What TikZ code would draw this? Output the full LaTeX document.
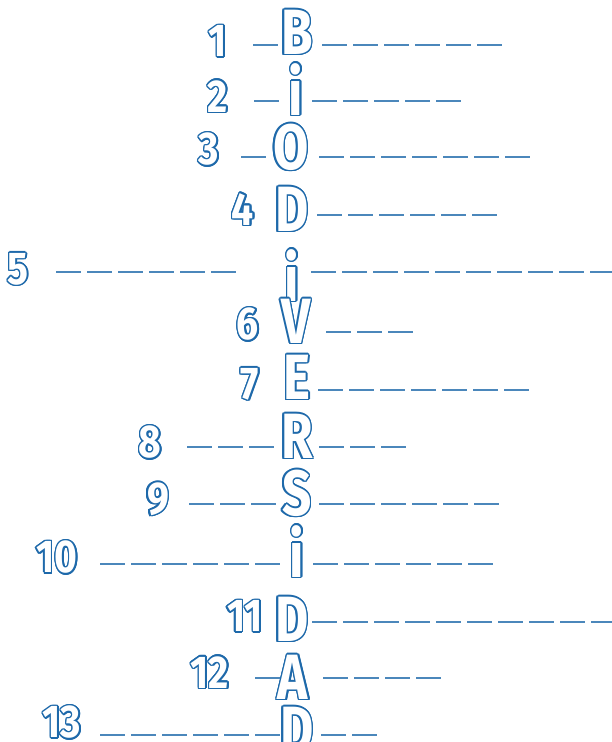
\documentclass[tikz,border=0pt]{standalone}
\usepackage{fontspec}
\setmainfont{Fira Sans}
\usepackage{contour}
\contourlength{1.5pt}
\definecolor{myblue}{RGB}{30,105,170}
\newcommand{\ltr}[1]{\contour{myblue}{\color{white}\scalebox{0.8}[1]{\fontsize{64}{64}\selectfont\bfseries #1}}}
\newcommand{\numtxt}[1]{\contour{myblue}{\color{white}\scalebox{0.85}[1]{\fontsize{46}{46}\selectfont\bfseries #1}}}
\newcommand{\blanks}[3]{\foreach \k in {1,...,#3}{\draw[blankline] ({#1+(\k-1)*31},#2) -- ++(25,0);}}
\tikzset{
  blankline/.style={line width=1.4pt, myblue!80},
  ltrnode/.style={inner sep=0pt},
  numnode/.style={inner sep=0pt}
}
\begin{document}
\begin{tikzpicture}[x=1pt,y=-1pt]
\useasboundingbox (0,0) rectangle (611,742);
% row 1
\node[numnode] (n1) at (218,42) {\numtxt{1}};
\node[ltrnode] (l1) at (297,33) {\ltr{B}};
\blanks{253}{45}{1} \blanks{322}{45}{6}
% row 2
\node[numnode] (n2) at (218,97) {\numtxt{2}};
\node[ltrnode] (l2) at (296,90) {\ltr{i}};
\blanks{254}{101}{1} \blanks{312}{101}{5}
% row 3
\node[numnode] (n3) at (209,150) {\numtxt{3}};
\node[ltrnode] (l3) at (291,148) {\ltr{O}};
\blanks{241}{157}{1} \blanks{319}{157}{7}
% row 4
\node[numnode] (n4) at (243,210) {\numtxt{4}};
\node[ltrnode] (l4) at (292,210) {\ltr{D}};
\blanks{317}{215}{6}
% row 5
\node[numnode] (n5) at (18,270) {\numtxt{5}};
\node[ltrnode] (l5) at (292,276) {\ltr{i}};
\blanks{56}{272}{6} \blanks{311}{272}{10}
% row 6
\node[numnode] (n6) at (248,325) {\numtxt{6}};
\node[ltrnode] (l6) at (296,322) {\ltr{V}};
\blanks{326}{332}{3}
% row 7
\node[numnode] (n7) at (250,385) {\numtxt{7}};
\node[ltrnode] (l7) at (297,378) {\ltr{E}};
\blanks{318}{390}{7}
% row 8
\node[numnode] (n8) at (150,443) {\numtxt{8}};
\node[ltrnode] (l8) at (297,437) {\ltr{R}};
\blanks{187}{447}{3} \blanks{319}{447}{3}
% row 9
\node[numnode] (n9) at (158,500) {\numtxt{9}};
\node[ltrnode] (l9) at (297,494) {\ltr{S}};
\blanks{189}{504}{3} \blanks{319}{504}{6}
% row 10
\node[numnode] (n10) at (57,558) {\numtxt{10}};
\node[ltrnode] (l10) at (297,552) {\ltr{i}};
\blanks{100}{564}{6} \blanks{313}{564}{6}
% row 11
\node[numnode] (n11) at (245,617) {\numtxt{11}};
\node[ltrnode] (l11) at (292,620) {\ltr{D}};
\blanks{312}{622}{10}
% row 12
\node[numnode] (n12) at (210,673) {\numtxt{12}};
\node[ltrnode] (l12) at (293,678) {\ltr{A}};
\blanks{255}{678}{1} \blanks{323}{678}{4}
% row 13
\node[numnode] (n13) at (62,723) {\numtxt{13}};
\node[ltrnode] (l13) at (297,730) {\ltr{D}};
\blanks{100}{735}{6} \blanks{321}{735}{2}
\end{tikzpicture}
\end{document}
